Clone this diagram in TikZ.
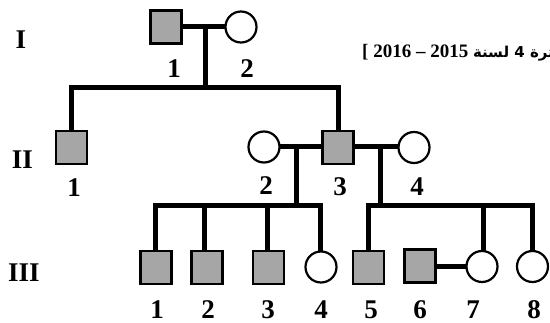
\documentclass[tikz,border=0pt]{standalone}
\usepackage{fontspec}
\setmainfont{Liberation Serif}
\newfontfamily\arabicfont[Script=Arabic]{DejaVu Sans}
\TeXXeTstate=1
\definecolor{affgray}{HTML}{A6A6A6}
\tikzset{
  male/.style={draw=black, fill=affgray, line width=2.2pt, minimum width=31pt, minimum height=33pt, inner sep=0pt},
  female/.style={circle, draw=black, fill=white, line width=2.2pt, minimum size=31pt, inner sep=0pt},
  link/.style={line width=5pt, line join=miter, draw=black},
  lbl/.style={inner sep=0pt, font=\fontsize{27}{27}\selectfont\bfseries},
  gen/.style={inner sep=0pt, font=\fontsize{27}{27}\selectfont\bfseries}
}
\begin{document}
\begin{tikzpicture}[x=1pt, y=-1pt]
\useasboundingbox (0,0) rectangle (550,323);
% header text
\begin{scope}
\clip (0,0) rectangle (550,323);
\node[anchor=base west, inner sep=0pt] (hdr) at (362,58)
 {\fontsize{19}{19}\selectfont\bfseries [ 2016 -- 2015 {\arabicfont\fontsize{15}{15}\selectfont\bfseries\beginR فترة 4 لسنة\endR}};
\end{scope}
% generation labels
\node[gen] (gI) at (21,40) {I};
\node[gen] (gII) at (22.5,160) {II};
\node[gen] (gIII) at (24,273) {III};
% connecting coordinates
\coordinate (m1) at (205,27);
\coordinate (s1) at (205,88);
\coordinate (m2) at (296,147);
\coordinate (s2) at (296,206);
\coordinate (m3) at (380.5,147);
\coordinate (s3) at (380.5,206);
% lines (drawn first, under the symbols)
\draw[link] (166,27) -- (241,27);
\draw[link] (m1) -- (s1);
\draw[link] (71.5,131) |- (s1) -| (338,131);
\draw[link] (264,147) -- (414,147);
\draw[link] (m2) -- (s2);
\draw[link] (m3) -- (s3);
\draw[link] (155,251) |- (s2) -| (320,251);
\draw[link] (204.5,251) -- (204.5,206);
\draw[link] (267.5,251) -- (267.5,206);
\draw[link] (368,251) |- (s3) -| (532.5,251);
\draw[link] (483,251) -- (483,206);
\draw[link] (420,266.5) -- (482,266.5);
% generation I
\node[male] (I1) at (166,27) {};
\node[female] (I2) at (241,27) {};
% generation II
\node[male] (II1) at (71.5,147.5) {};
\node[female] (II2) at (264,147) {};
\node[male] (II3) at (338,147.5) {};
\node[female] (II4) at (414,147.5) {};
% generation III
\node[male] (III1) at (156,267.5) {};
\node[male] (III2) at (207,267.5) {};
\node[male] (III3) at (268.5,267.5) {};
\node[female] (III4) at (321,267) {};
\node[male] (III5) at (368.5,267.5) {};
\node[male] (III6) at (420,266) {};
\node[female] (III7) at (482,266.5) {};
\node[female] (III8) at (532.5,266.5) {};
% numbers
\node[lbl] (n11) at (174,69) {1};
\node[lbl] (n12) at (247,69) {2};
\node[lbl] (n21) at (74,188) {1};
\node[lbl] (n22) at (266,186) {2};
\node[lbl] (n23) at (340,187) {3};
\node[lbl] (n24) at (417,187) {4};
\node[lbl] (n31) at (157,309.5) {1};
\node[lbl] (n32) at (208,309.5) {2};
\node[lbl] (n33) at (268,309.5) {3};
\node[lbl] (n34) at (321,309.5) {4};
\node[lbl] (n35) at (371,309.5) {5};
\node[lbl] (n36) at (420,309.5) {6};
\node[lbl] (n37) at (473,309.5) {7};
\node[lbl] (n38) at (534,309.5) {8};
\end{tikzpicture}
\end{document}
